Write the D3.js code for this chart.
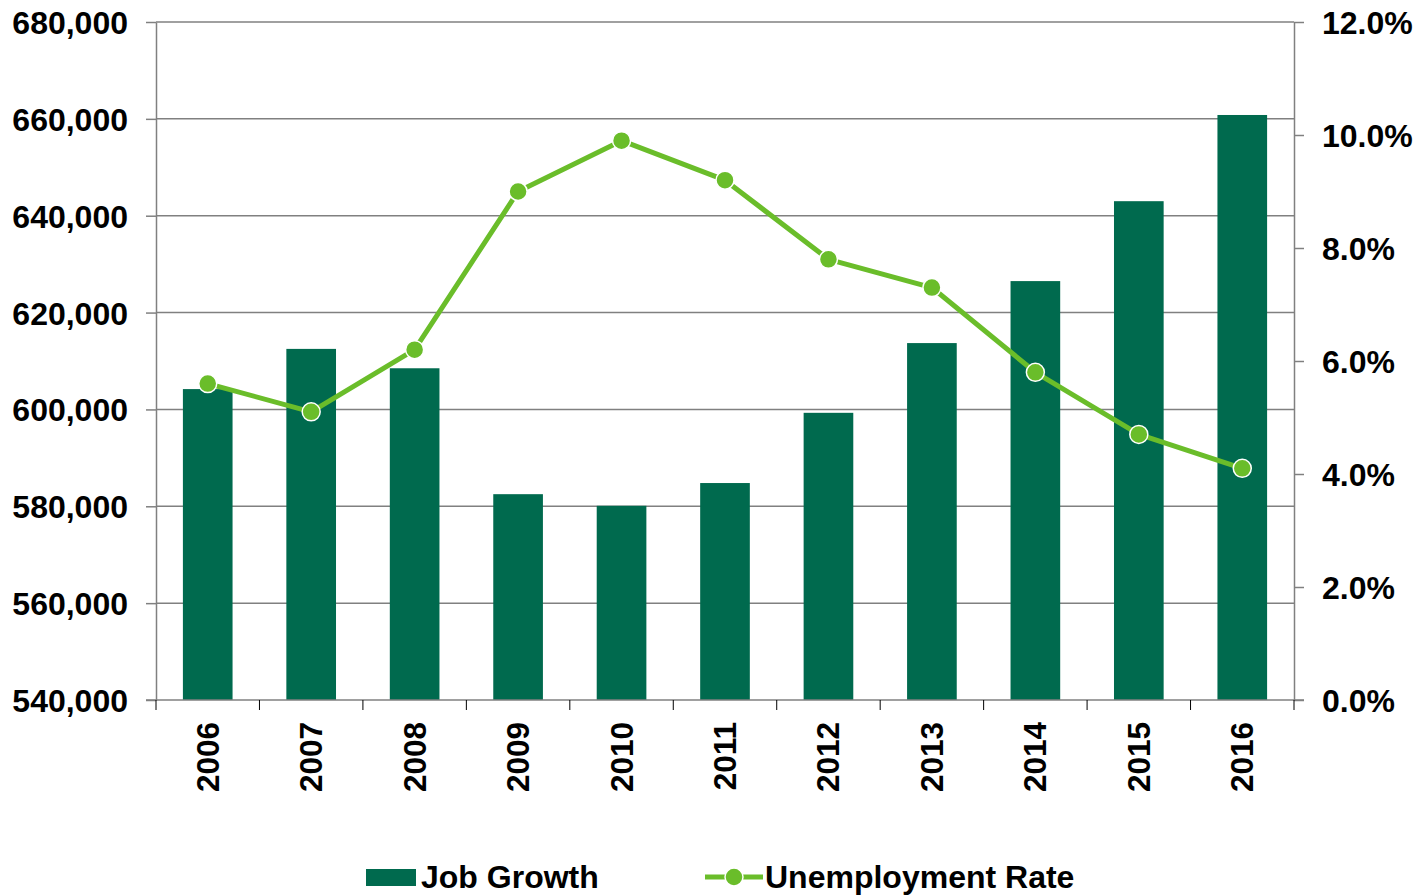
<!DOCTYPE html>
<html>
<head>
<meta charset="utf-8">
<script src="https://cdn.jsdelivr.net/npm/d3@7"></script>
<style>
  html, body { margin: 0; padding: 0; background: #fff; }
  svg text { font-family: "Liberation Sans", Arial, sans-serif; font-weight: bold; fill: #000; }
</style>
</head>
<body>
<svg id="chart" width="1420" height="896"></svg>
<script>
// Data
const years = ["2006","2007","2008","2009","2010","2011","2012","2013","2014","2015","2016"];
const jobs = [604200, 612500, 608500, 582500, 580100, 584800, 599300, 613700, 626500, 643000, 660800];
const unemployment = [5.6, 5.1, 6.2, 9.0, 9.9, 9.2, 7.8, 7.3, 5.8, 4.7, 4.1];
const leftTicks = [540000, 560000, 580000, 600000, 620000, 640000, 660000, 680000];
const rightTicks = [0, 2, 4, 6, 8, 10, 12];
const seriesNames = ["Job Growth", "Unemployment Rate"];

const barColor = "#006a4e";
const lineColor = "#6abd2a";
const gridColor = "#808080";

const svg = d3.select("#chart");
const plot = { left: 156, right: 1294, top: 22, bottom: 700 };

const x = d3.scaleBand()
  .domain(years)
  .range([plot.left, plot.right])
  .paddingInner(0.52)
  .paddingOuter(0.26);

const yLeft = d3.scaleLinear().domain([540000, 680000]).range([plot.bottom, plot.top]);
const yRight = d3.scaleLinear().domain([0, 12]).range([plot.bottom, plot.top]);

// Horizontal gridlines
svg.append("g")
  .selectAll("line")
  .data(leftTicks.slice(1))
  .join("line")
  .attr("x1", plot.left).attr("x2", plot.right)
  .attr("y1", d => yLeft(d)).attr("y2", d => yLeft(d))
  .attr("stroke", gridColor).attr("stroke-width", 1.5);

// Bars
svg.append("g")
  .selectAll("rect")
  .data(years)
  .join("rect")
  .attr("x", d => x(d))
  .attr("width", x.bandwidth())
  .attr("y", (d, i) => yLeft(jobs[i]))
  .attr("height", (d, i) => plot.bottom - yLeft(jobs[i]))
  .attr("fill", barColor);

// Left axis
const leftAxis = d3.axisLeft(yLeft)
  .tickValues(leftTicks)
  .tickFormat(d3.format(","))
  .tickSizeInner(10).tickSizeOuter(0).tickPadding(18);
const gl = svg.append("g").attr("transform", `translate(${plot.left},0)`).call(leftAxis);
gl.select(".domain").attr("stroke", gridColor).attr("stroke-width", 1.5);
gl.selectAll(".tick line").attr("stroke", gridColor).attr("stroke-width", 1.5);
gl.selectAll(".tick text").style("font-size", "32px").attr("dy", "0.36em");

// Right axis
const rightAxis = d3.axisRight(yRight)
  .tickValues(rightTicks)
  .tickFormat(d => d3.format(".1f")(d) + "%")
  .tickSizeInner(10).tickSizeOuter(0).tickPadding(18);
const gr = svg.append("g").attr("transform", `translate(${plot.right},0)`).call(rightAxis);
gr.select(".domain").attr("stroke", gridColor).attr("stroke-width", 1.5);
gr.selectAll(".tick line").attr("stroke", gridColor).attr("stroke-width", 1.5);
gr.selectAll(".tick text").style("font-size", "32px").attr("dy", "0.36em");

// Bottom axis: baseline, ticks between categories, rotated year labels
svg.append("line")
  .attr("x1", plot.left - 10).attr("x2", plot.right + 10)
  .attr("y1", plot.bottom).attr("y2", plot.bottom)
  .attr("stroke", gridColor).attr("stroke-width", 1.5);

const step = x.step();
const boundaries = d3.range(years.length + 1).map(i => plot.left + i * step);
svg.append("g")
  .selectAll("line")
  .data(boundaries)
  .join("line")
  .attr("x1", d => d).attr("x2", d => d)
  .attr("y1", plot.bottom).attr("y2", plot.bottom + 10)
  .attr("stroke", "#000").attr("stroke-width", 1);

svg.append("g")
  .selectAll("text")
  .data(years)
  .join("text")
  .attr("transform", d => `translate(${x(d) + x.bandwidth() / 2 + 11},${plot.bottom + 22}) rotate(-90)`)
  .attr("text-anchor", "end")
  .style("font-size", "31.5px")
  .text(d => d);

// Unemployment line
const line = d3.line()
  .x((d, i) => x(years[i]) + x.bandwidth() / 2)
  .y(d => yRight(d));

svg.append("path")
  .datum(unemployment)
  .attr("d", line)
  .attr("fill", "none")
  .attr("stroke", lineColor)
  .attr("stroke-width", 5)
  .attr("stroke-linejoin", "round");

svg.append("g")
  .selectAll("circle")
  .data(unemployment)
  .join("circle")
  .attr("cx", (d, i) => x(years[i]) + x.bandwidth() / 2)
  .attr("cy", d => yRight(d))
  .attr("r", 9)
  .attr("fill", lineColor)
  .attr("stroke", "#fff")
  .attr("stroke-width", 1.5);

// Legend
const legend = svg.append("g");
legend.append("rect")
  .attr("x", 366).attr("y", 869).attr("width", 50).attr("height", 17)
  .attr("fill", barColor);
legend.append("text")
  .attr("x", 421).attr("y", 888)
  .style("font-size", "32px")
  .text(seriesNames[0]);

legend.append("line")
  .attr("x1", 705).attr("x2", 763).attr("y1", 877).attr("y2", 877)
  .attr("stroke", lineColor).attr("stroke-width", 5);
legend.append("circle")
  .attr("cx", 734).attr("cy", 877).attr("r", 9)
  .attr("fill", lineColor).attr("stroke", "#fff").attr("stroke-width", 1.5);
legend.append("text")
  .attr("x", 765).attr("y", 888)
  .style("font-size", "32px")
  .text(seriesNames[1]);
</script>
</body>
</html>
